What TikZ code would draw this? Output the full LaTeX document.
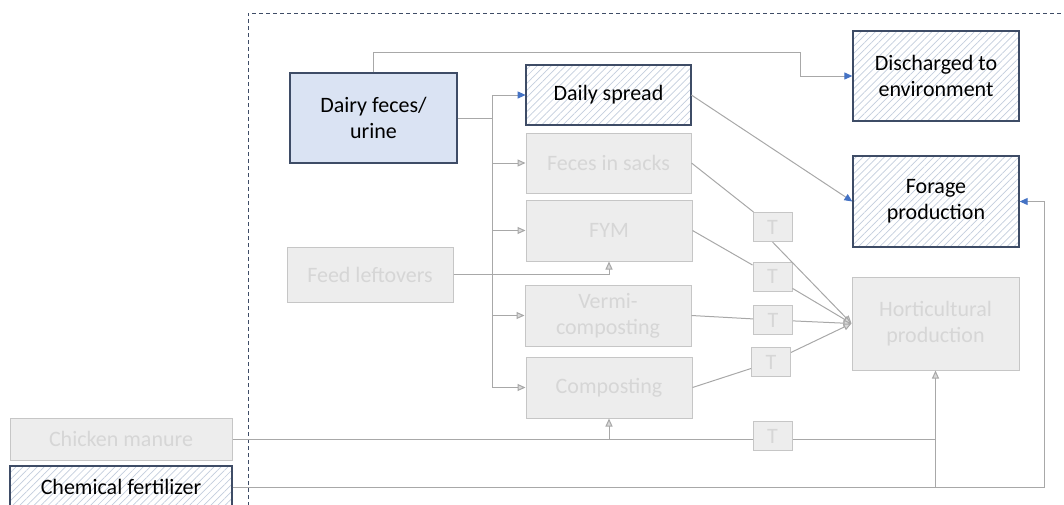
\documentclass[tikz,border=0pt]{standalone}
\usepackage{fontspec}
\setmainfont{Carlito}
\usetikzlibrary{arrows.meta,patterns.meta}
\definecolor{dkb}{HTML}{3E4C66}
\definecolor{dairyfill}{HTML}{DAE3F3}
\definecolor{hatchc}{HTML}{C3CEDD}
\definecolor{gfill}{HTML}{EDEDED}
\definecolor{gdraw}{HTML}{C6C6C6}
\definecolor{gtext}{HTML}{D6D6D6}
\definecolor{conn}{HTML}{A8A8A8}
\definecolor{arrowblue}{HTML}{4472C4}
\definecolor{headfill}{HTML}{D9D9D9}
\begin{document}
\begin{tikzpicture}[x=1pt,y=-1pt,
  base/.style={align=center, inner sep=0pt, font=\fontsize{22}{26}\selectfont},
  dairybox/.style={base, draw=dkb, line width=1.3pt, fill=dairyfill, text=black},
  hatchbox/.style={base, draw=dkb, line width=1.3pt, text=black, preaction={fill=white},
    pattern={Lines[angle=45,distance=5pt,line width=0.7pt]}, pattern color=hatchc},
  graybox/.style={base, draw=gdraw, line width=1pt, fill=gfill, text=gtext},
  tbox/.style={graybox, minimum width=39pt, minimum height=29pt},
  conline/.style={draw=conn, line width=1pt},
  garrow/.style={conline, -{Triangle[length=8pt,width=7pt,fill=headfill]}},
  barrow/.style={conline, -{Triangle[length=8pt,width=7pt,color=arrowblue]}},
  boundary/.style={draw=dkb, line width=1pt, dash pattern=on 4pt off 3pt}
]
\useasboundingbox (0,0) rectangle (1064,504);

% boundary
\draw[boundary] (248,520) -- (248,13) -- (1080,13);

% nodes
\node[dairybox, minimum width=167pt, minimum height=90pt] (dairy) at (373.5,118) {Dairy feces/\\urine};
\node[hatchbox, minimum width=165pt, minimum height=60pt] (spread) at (608.5,95) {Daily spread};
\node[hatchbox, minimum width=166pt, minimum height=90pt] (disch) at (936,76) {Discharged to\\environment};
\node[hatchbox, minimum width=166pt, minimum height=91pt] (forage) at (936,201.5) {Forage\\production};
\node[graybox, minimum width=165pt, minimum height=60pt] (sacks) at (608.5,163) {Feces in sacks};
\node[graybox, minimum width=166pt, minimum height=61pt] (fym) at (609,230.5) {FYM};
\node[graybox, minimum width=166pt, minimum height=55pt] (feed) at (370,274.5) {Feed leftovers};
\node[graybox, minimum width=166pt, minimum height=61pt] (vermi) at (608,315.5) {Vermi-\\composting};
\node[graybox, minimum width=166pt, minimum height=61pt] (compost) at (609,387.5) {Composting};
\node[graybox, minimum width=167pt, minimum height=93pt] (hort) at (935.5,323.5) {Horticultural\\production};
\node[tbox] (t1) at (772.5,227) {T};
\node[tbox] (t2) at (772.5,276.5) {T};
\node[tbox] (t3) at (773,320) {T};
\node[tbox] (t4) at (771,362) {T};
\node[tbox] (t5) at (772.5,436) {T};
\node[graybox, minimum width=222pt, minimum height=42pt] (chick) at (121,439) {Chicken manure};
\node[hatchbox, minimum width=222pt, minimum height=42pt] (chem) at (121,487) {Chemical fertilizer};

\coordinate (trunk) at (492,118);
\coordinate (rc) at (1044,201.5);

% dairy -> discharged
\draw[barrow] (dairy.north) -- (dairy.north |- 0,52) -- (800,52) -- (800,76) -- (disch.west);

% dairy trunk
\draw[conline] (dairy.east) -- (trunk);
\draw[conline] (trunk |- spread.west) -- (trunk |- compost.west);
\draw[barrow] (trunk |- spread.west) -- (spread.west);
\draw[garrow] (trunk |- sacks.west) -- (sacks.west);
\draw[garrow] (trunk |- fym.west) -- (fym.west);
\draw[garrow] (trunk |- vermi.west) -- (vermi.west);
\draw[garrow] (trunk |- compost.west) -- (compost.west);

% feed leftovers -> FYM
\draw[garrow] (feed.east) -| (fym.south);

% daily spread -> forage
\draw[barrow] (spread.east) -- (forage.west);

% processed -> T -> horticulture
\draw[conline] (sacks.east) -- (t1);
\draw[conline] (fym.east) -- (t2);
\draw[conline] (vermi.east) -- (t3);
\draw[conline] (compost.east) -- (t4);
\draw[garrow] (t1.south) -- (hort.west);
\draw[garrow] (t2) -- (hort.west);
\draw[garrow] (t3) -- (hort.west);
\draw[garrow] (t4) -- (hort.west);

% chicken manure
\draw[conline] (chick.east) -- (t5.west |- chick.east);
\draw[garrow] (compost.south |- chick.east) -- (compost.south);
\draw[garrow] (t5.east |- chick.east) -- (hort.south |- chick.east) -- (hort.south);

% chemical fertilizer
\draw[barrow] (chem.east) -| (rc) -- (forage.east);
\draw[conline] (hort.south |- chem.east) -- (hort.south |- chick.east);
\end{tikzpicture}
\end{document}
